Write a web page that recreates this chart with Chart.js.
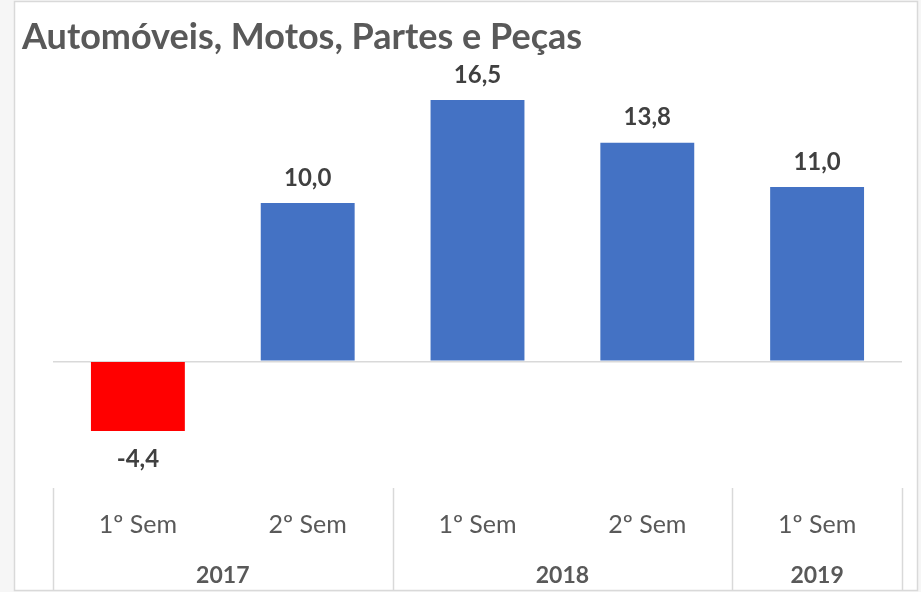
<!DOCTYPE html>
<html>
<head>
<meta charset="utf-8">
<script src="https://cdn.jsdelivr.net/npm/chart.js@4/dist/chart.umd.min.js"></script>
<style>
  html, body { margin: 0; padding: 0; background: #ffffff; }
  #wrap { width: 921px; height: 592px; }
</style>
</head>
<body>
<div id="wrap"><canvas id="c" width="921" height="592"></canvas></div>
<script>
const titleText = 'Automóveis, Motos, Partes e Peças';
const semesters = ['1º Sem', '2º Sem', '1º Sem', '2º Sem', '1º Sem'];
const yearOfSemester = ['2017', '2017', '2018', '2018', '2019'];
const years = ['2017', '2018', '2019'];
const values = [-4.4, 10.0, 16.5, 13.8, 11.0];
const yMin = -8;
const yMax = 18;

const BLUE = '#4472C4';
const RED = '#FF0000';
const GRID = '#d9d9d9';
const TEXT = '#595959';
const LABEL = '#404040';
const FONT = 'Lato, "Open Sans", sans-serif';

const framePlugin = {
  id: 'frame',
  beforeDraw(chart) {
    const ctx = chart.ctx;
    ctx.save();
    ctx.fillStyle = '#f6f6f6';
    ctx.fillRect(0, 0, chart.width, chart.height);
    ctx.fillStyle = '#ffffff';
    ctx.fillRect(14, 1, 904, 590);
    ctx.strokeStyle = GRID;
    ctx.lineWidth = 1.5;
    ctx.strokeRect(14.5, 1.5, 903, 589);
    ctx.restore();
  }
};

const groupPlugin = {
  id: 'groups',
  afterDraw(chart) {
    const ctx = chart.ctx;
    const x = chart.scales.x;
    const area = chart.chartArea;
    const half = (x.getPixelForValue(1) - x.getPixelForValue(0)) / 2;
    ctx.save();
    ctx.strokeStyle = GRID;
    ctx.lineWidth = 1.5;
    const bounds = [];
    yearOfSemester.forEach((y, i) => {
      if (i === 0 || yearOfSemester[i - 1] !== y) bounds.push(x.getPixelForValue(i) - half);
    });
    bounds.push(x.getPixelForValue(yearOfSemester.length - 1) + half);
    bounds.forEach(px => {
      ctx.beginPath();
      ctx.moveTo(Math.round(px) + 0.5, area.bottom);
      ctx.lineTo(Math.round(px) + 0.5, 590);
      ctx.stroke();
    });
    ctx.fillStyle = TEXT;
    ctx.font = 'bold 23px ' + FONT;
    ctx.textAlign = 'center';
    ctx.textBaseline = 'middle';
    years.forEach(yr => {
      const idx = yearOfSemester.map((v, i) => v === yr ? i : -1).filter(i => i >= 0);
      const cx = (x.getPixelForValue(idx[0]) + x.getPixelForValue(idx[idx.length - 1])) / 2;
      ctx.fillText(yr, cx, 576);
    });
    ctx.restore();
  }
};

const valueLabelPlugin = {
  id: 'valueLabels',
  afterDatasetsDraw(chart) {
    const ctx = chart.ctx;
    const meta = chart.getDatasetMeta(0);
    ctx.save();
    ctx.fillStyle = LABEL;
    ctx.font = 'bold 24px ' + FONT;
    ctx.textAlign = 'center';
    ctx.textBaseline = 'middle';
    meta.data.forEach((bar, i) => {
      const v = values[i];
      const txt = v.toFixed(1).replace('.', ',');
      const y = v >= 0 ? bar.y - 25 : bar.y + 28;
      ctx.fillText(txt, bar.x, y);
    });
    ctx.restore();
  }
};

new Chart(document.getElementById('c'), {
  type: 'bar',
  data: {
    labels: semesters,
    datasets: [{
      data: values,
      backgroundColor: values.map(v => v < 0 ? RED : BLUE),
      borderWidth: 0,
      barPercentage: 0.553,
      categoryPercentage: 1.0
    }]
  },
  options: {
    responsive: false,
    animation: false,
    devicePixelRatio: 1,
    layout: { padding: { left: 22, right: 19, top: 0, bottom: 0 } },
    plugins: {
      legend: { display: false },
      tooltip: { enabled: false },
      title: {
        display: true,
        text: titleText,
        align: 'start',
        color: TEXT,
        font: { family: FONT, size: 36, weight: 'bold', lineHeight: 1.2 },
        padding: { top: 16, bottom: 17 }
      }
    },
    scales: {
      x: {
        grid: { display: false, drawTicks: false },
        border: { display: false },
        ticks: {
          color: TEXT,
          font: { family: FONT, size: 25 },
          padding: 22,
          autoSkip: false,
          maxRotation: 0
        },
        afterFit(s) { s.height = 104; }
      },
      y: {
        min: yMin,
        max: yMax,
        grid: {
          drawTicks: false,
          lineWidth: 1.5,
          color: c => (c.tick && c.tick.value === 0) ? GRID : 'rgba(0,0,0,0)'
        },
        border: { display: false },
        ticks: { display: false, stepSize: 2 },
        afterFit(s) { s.width = 31; }
      }
    }
  },
  plugins: [framePlugin, groupPlugin, valueLabelPlugin]
});
</script>
</body>
</html>
